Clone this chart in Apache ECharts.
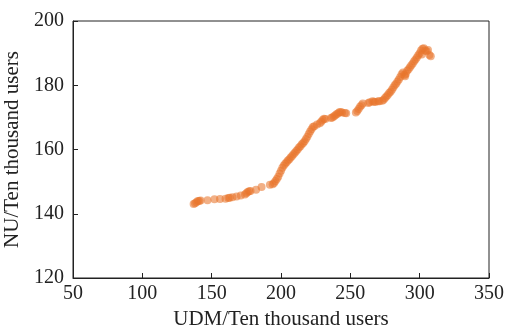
<!DOCTYPE html>
<html>
<head>
<meta charset="utf-8">
<script src="https://cdn.jsdelivr.net/npm/echarts@6/dist/echarts.min.js"></script>
<style>
  html, body { margin: 0; padding: 0; background: #fff; }
  #chart { width: 505px; height: 331px; }
</style>
</head>
<body>
<div id="chart"></div>
<script>
// UDM values (x) and NU values (y)
const udm = [
  137, 138, 139, 140, 141, 142, 147, 152, 156, 160, 162, 163, 165, 168, 171, 174, 175, 176, 177, 178,
  182, 186, 192, 194, 195, 196, 197, 198, 199, 200, 201, 202, 203, 204, 205, 206, 207, 208, 209, 210,
  211, 212, 213, 214, 215, 216, 217, 218, 219, 220, 221, 222, 223, 224, 226, 228, 229, 230, 231, 232,
  236, 237, 238, 239, 240, 241, 242, 243, 244, 246, 247, 254, 255, 256, 257, 258, 259, 263, 264, 266,
  267, 268, 270, 271, 273, 274, 275, 276, 277, 278, 279, 280, 281, 282, 283, 284, 285, 286, 287, 288,
  289, 289.5, 290, 291, 292, 293, 294, 295, 296, 297, 298, 299, 300, 301, 301.5, 302, 303, 304, 305, 306,
  307, 308
];
const nu = [
  143, 143.3, 143.6, 144, 144, 144.1, 144.2, 144.5, 144.6, 144.7, 144.9, 145, 145.1, 145.4, 145.7, 146, 146.4, 146.8, 147, 147.1,
  147.5, 148.3, 149, 149.2, 149.6, 150.2, 150.8, 151.5, 152.5, 153.4, 154.3, 155, 155.6, 156, 156.6, 157, 157.5, 158, 158.5, 159,
  159.5, 160, 160.6, 161, 161.6, 162, 162.6, 163.3, 164, 164.8, 165.6, 166.3, 167, 167.2, 167.8, 168.2, 168.6, 169.2, 169.6, 169.5,
  169.8, 170, 170.3, 170.6, 171, 171.2, 171.6, 171.7, 171.5, 171.4, 171.3, 171.5, 172, 172.6, 173.3, 173.8, 174.3, 174.5, 174.7, 175,
  174.9, 174.8, 175, 175, 175.2, 175.5, 176, 176.5, 177, 177.6, 178, 178.6, 179.3, 180, 180.5, 181.2, 181.8, 182.6, 183.4, 184,
  183.2, 182.8, 183.6, 184.5, 185, 185.6, 186.2, 186.8, 187.5, 188, 188.6, 189.3, 190, 190.8, 189.6, 191.4, 191.5, 190.8, 190.6, 191,
  189.4, 189
];

const xTicks = [50, 100, 150, 200, 250, 300, 350];
const yTicks = [120, 140, 160, 180, 200];

const points = udm.map((x, i) => [x, nu[i]]);

const chart = echarts.init(document.getElementById('chart'));
const serif = '"Liberation Serif", "DejaVu Serif", serif';
chart.setOption({
  animation: false,
  grid: {
    left: 73, right: 16, top: 21, bottom: 53,
    outerBoundsMode: 'none',
    show: true, borderColor: '#222', borderWidth: 1
  },
  xAxis: {
    type: 'value',
    min: xTicks[0], max: xTicks[xTicks.length - 1], interval: 50,
    name: 'UDM/Ten thousand users',
    nameLocation: 'middle', nameGap: 30,
    nameTextStyle: { fontFamily: serif, fontSize: 21, color: '#222' },
    axisLine: { lineStyle: { color: '#222' } },
    axisTick: { inside: true, length: 5, lineStyle: { color: '#222' } },
    axisLabel: { fontFamily: serif, fontSize: 20, color: '#222', margin: 6 },
    splitLine: { show: false }
  },
  yAxis: {
    type: 'value',
    min: yTicks[0], max: yTicks[yTicks.length - 1], interval: 20,
    name: 'NU/Ten thousand users',
    nameLocation: 'middle', nameGap: 44,
    nameTextStyle: { fontFamily: serif, fontSize: 21, color: '#222' },
    axisLine: { lineStyle: { color: '#222' } },
    axisTick: { inside: true, length: 5, lineStyle: { color: '#222' } },
    axisLabel: { fontFamily: serif, fontSize: 20, color: '#222', margin: 9 },
    splitLine: { show: false }
  },
  series: [{
    type: 'scatter',
    data: points,
    symbolSize: 8,
    itemStyle: { color: 'rgba(232, 118, 45, 0.72)' }
  }]
});
</script>
</body>
</html>
